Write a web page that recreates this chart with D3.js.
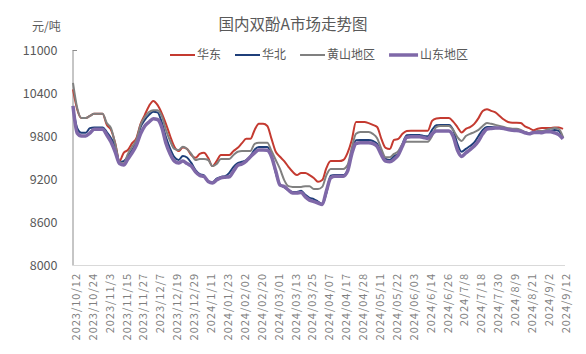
<!DOCTYPE html>
<html>
<head>
<meta charset="utf-8">
<script src="https://cdn.jsdelivr.net/npm/d3@7"></script>
<style>
  body { margin: 0; background: #fff; }
  text { font-family: "Noto Sans CJK SC", "Noto Sans", sans-serif; }
</style>
</head>
<body>
<div id="chart"></div>
<script>
// Price data, one value every 2 trading days (元/吨)
const dateLabels = [
    "2023/10/12", "2023/10/24", "2023/11/3", "2023/11/15", "2023/11/27", "2023/12/7",
    "2023/12/19", "2023/12/29", "2024/1/11", "2024/01/23", "2024/02/02", "2024/02/20",
    "2024/03/01", "2024/03/13", "2024/03/25", "2024/04/07", "2024/04/17", "2024/04/28",
    "2024/05/11", "2024/05/22", "2024/06/03", "2024/6/14", "2024/6/26", "2024/7/8",
    "2024/7/18", "2024/7/30", "2024/8/9", "2024/8/21", "2024/9/2", "2024/9/12"
];
const yTicks = [8000, 8600, 9200, 9800, 10400, 11000];

const eastChina = [
    10450, 10170, 10050, 10050, 10080, 10110, 10110, 10110, 9955, 9885,
    9700, 9450, 9565, 9605, 9700, 9770, 9970, 10095, 10220, 10290,
    10235, 10120, 9970, 9800, 9650, 9590, 9640, 9620, 9535, 9495,
    9550, 9565, 9495, 9380, 9450, 9535, 9535, 9535, 9590, 9635,
    9700, 9760, 9760, 9885, 9970, 9970, 9940, 9760, 9580, 9510,
    9450, 9370, 9300, 9255, 9285, 9285, 9255, 9215, 9160, 9185,
    9355, 9450, 9450, 9450, 9465, 9565, 9745, 9995, 9995, 9995,
    9980, 9955, 9925, 9760, 9635, 9620, 9745, 9760, 9830, 9870,
    9875, 9875, 9875, 9875, 9875, 10010, 10045, 10050, 10050, 10050,
    10000, 9925, 9850, 9900, 9925, 9970, 10050, 10150, 10175, 10150,
    10130, 10080, 10030, 9995, 9985, 9985, 9980, 9935, 9910, 9880,
    9900, 9910, 9910, 9910, 9920, 9920, 9900
];
const northChina = [
    10200, 9910, 9845, 9845, 9910, 9920, 9920, 9920, 9855, 9770,
    9650, 9440, 9450, 9520, 9605, 9715, 9925, 10025, 10095, 10140,
    10130, 9995, 9785, 9625, 9505, 9465, 9520, 9500, 9425, 9325,
    9270, 9250, 9165, 9150, 9205, 9230, 9240, 9285, 9370, 9420,
    9440, 9465, 9520, 9610, 9645, 9645, 9645, 9530, 9285, 9125,
    9085, 9045, 9020, 9020, 9035, 8980, 8935, 8920, 8885, 8850,
    9005, 9245, 9255, 9255, 9255, 9325, 9575, 9740, 9745, 9745,
    9745, 9730, 9690, 9565, 9480, 9465, 9520, 9550, 9690, 9810,
    9815, 9815, 9815, 9800, 9795, 9885, 9950, 9955, 9955, 9955,
    9885, 9690, 9580, 9620, 9660, 9710, 9800, 9885, 9925, 9925,
    9920, 9910, 9900, 9895, 9890, 9885, 9870, 9850, 9840, 9845,
    9855, 9860, 9860, 9870, 9885, 9870, 9770
];
const huangshan = [
    10540, 10190, 10050, 10050, 10080, 10110, 10110, 10110, 9980, 9910,
    9690, 9440, 9420, 9550, 9650, 9745, 9955, 10065, 10135, 10160,
    10160, 10080, 9885, 9730, 9620, 9605, 9650, 9620, 9550, 9465,
    9480, 9480, 9465, 9380, 9410, 9480, 9480, 9480, 9535, 9580,
    9590, 9590, 9590, 9690, 9705, 9705, 9705, 9590, 9465, 9340,
    9185, 9100, 9090, 9090, 9090, 9100, 9100, 9060, 9060, 9090,
    9255, 9340, 9340, 9340, 9340, 9395, 9635, 9830, 9855, 9855,
    9855, 9830, 9770, 9620, 9505, 9505, 9550, 9590, 9690, 9720,
    9720, 9720, 9720, 9720, 9720, 9800, 9925, 9940, 9940, 9940,
    9885, 9785, 9730, 9800, 9830, 9855, 9885, 9940, 9980, 9970,
    9955, 9940, 9925, 9910, 9900, 9900, 9885, 9855, 9840, 9840,
    9870, 9870, 9885, 9900, 9910, 9900, 9785
];
const shandong = [
    10220, 9840, 9800, 9800, 9840, 9895, 9895, 9895, 9815, 9715,
    9575, 9415, 9395, 9480, 9565, 9670, 9830, 9940, 9995, 10040,
    10030, 9925, 9700, 9550, 9450, 9425, 9450, 9415, 9380, 9300,
    9250, 9235, 9165, 9145, 9185, 9215, 9225, 9230, 9310, 9390,
    9410, 9450, 9510, 9565, 9605, 9605, 9600, 9510, 9310, 9115,
    9095, 9045, 9005, 9005, 9010, 8950, 8905, 8885, 8865, 8845,
    9035, 9215, 9240, 9240, 9240, 9310, 9550, 9695, 9705, 9705,
    9705, 9695, 9655, 9535, 9450, 9440, 9475, 9535, 9660, 9780,
    9790, 9790, 9790, 9780, 9765, 9830, 9870, 9870, 9870, 9870,
    9795, 9605, 9515, 9565, 9610, 9660, 9730, 9830, 9895, 9905,
    9910, 9910, 9905, 9890, 9880, 9875, 9865, 9845, 9830, 9850,
    9850, 9845, 9860, 9860, 9845, 9820, 9760
];

const seriesNames = ["华东", "华北", "黄山地区", "山东地区"];

function drawChart() {
    const width = 586, height = 354;
    const plot = { left: 73, right: 563, top: 50, bottom: 265 };
    const textColor = "#595959";

    const series = [
        { name: seriesNames[0], values: eastChina, color: "#c43a30", stroke: 2 },
        { name: seriesNames[1], values: northChina, color: "#1f3f7a", stroke: 2 },
        { name: seriesNames[2], values: huangshan, color: "#808080", stroke: 2 },
        { name: seriesNames[3], values: shandong, color: "#7f68a8", stroke: 3.5 }
    ];

    const svg = d3.select("#chart").append("svg")
        .attr("width", width)
        .attr("height", height);

    const x = d3.scaleLinear()
        .domain([0, eastChina.length - 1])
        .range([plot.left, plot.right]);

    const y = d3.scaleLinear()
        .domain([8000, 11000])
        .range([plot.bottom, plot.top]);

    // Title and unit
    svg.append("text")
        .attr("x", 293)
        .attr("y", 30)
        .attr("text-anchor", "middle")
        .style("font-size", "15.5px")
        .style("fill", textColor)
        .text("国内双酚A市场走势图");

    svg.append("text")
        .attr("x", 32)
        .attr("y", 31)
        .style("font-size", "12px")
        .style("fill", textColor)
        .text("元/吨");

    // Y axis
    const yAxis = svg.append("g")
        .attr("transform", `translate(${plot.left - 0.5},0)`)
        .call(d3.axisLeft(y).tickValues(yTicks).tickSize(0).tickPadding(15).tickFormat(d3.format("d")));
    yAxis.select(".domain").attr("stroke", "#8c8c8c");
    yAxis.selectAll("text")
        .style("font-size", "12.5px")
        .style("fill", textColor)
        .style("font-family", "\"Noto Sans CJK SC\", sans-serif");

    svg.append("line")
        .attr("x1", plot.left - 0.5).attr("x2", plot.left + 4)
        .attr("y1", y(11000) + 0.5).attr("y2", y(11000) + 0.5)
        .attr("stroke", "#8c8c8c");

    // X axis line + rotated date labels
    svg.append("line")
        .attr("x1", plot.left - 0.5).attr("x2", plot.right + 2)
        .attr("y1", plot.bottom + 0.5).attr("y2", plot.bottom + 0.5)
        .attr("stroke", "#d9d9d9");

    svg.selectAll(".xlabel")
        .data(dateLabels)
        .enter()
        .append("text")
        .attr("class", "xlabel")
        .attr("transform", (d, i) => `translate(${x(i * 4) + 3},273) rotate(-90)`)
        .attr("text-anchor", "end")
        .attr("dy", "0.35em")
        .style("font-size", "11px")
        .style("letter-spacing", "1px")
        .style("fill", "#7f7f7f")
        .text(d => d);

    // Lines
    const line = d3.line()
        .x((d, i) => x(i))
        .y(d => y(d))
        .curve(d3.curveMonotoneX);

    svg.selectAll(".series")
        .data(series)
        .enter()
        .append("path")
        .attr("class", "series")
        .attr("fill", "none")
        .attr("stroke", d => d.color)
        .attr("stroke-width", d => d.stroke)
        .attr("stroke-linejoin", "round")
        .attr("d", d => line(d.values));

    // Legend
    const legend = svg.append("g").attr("transform", "translate(170,55)");
    let lx = 0;
    series.forEach(s => {
        const lineLen = s.stroke > 2 ? 29 : 25;
        legend.append("line")
            .attr("x1", lx).attr("x2", lx + lineLen)
            .attr("y1", 0).attr("y2", 0)
            .attr("stroke", s.color)
            .attr("stroke-width", s.stroke);
        const t = legend.append("text")
            .attr("x", lx + lineLen + 2)
            .attr("y", 0)
            .attr("dy", "0.35em")
            .style("font-size", "12px")
            .style("fill", textColor)
            .text(s.name);
        lx += lineLen + 2 + t.node().getComputedTextLength() + 14;
    });
}

drawChart();
</script>
</body>
</html>
